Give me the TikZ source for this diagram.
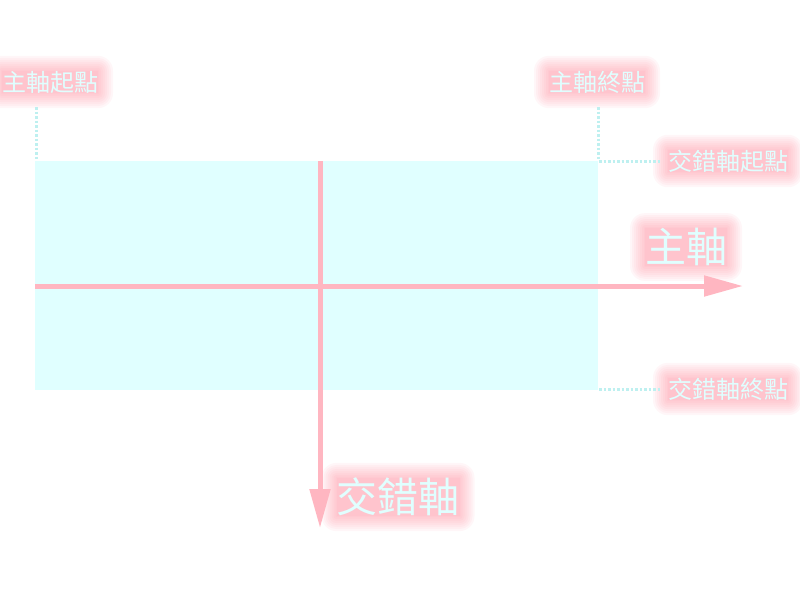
\documentclass[tikz,border=0pt]{standalone}
\usepackage{fontspec}
\setmainfont{Noto Sans CJK TC}
\usetikzlibrary{arrows.meta}
\definecolor{axispink}{RGB}{255,182,193}
\definecolor{glowpink}{RGB}{255,140,158}
\definecolor{lcyan}{RGB}{224,255,255}
\definecolor{guidecyan}{RGB}{190,240,240}
\tikzset{
  axis line/.style={draw=axispink, line width=5pt, -{Triangle[length=39pt,width=20pt]}},
  guide/.style={draw=guidecyan, line width=3pt, dash pattern=on 2.5pt off 2pt},
  lbl/.style={text=lcyan, inner sep=0pt, font=\fontsize{24}{24}\selectfont},
  biglbl/.style={text=lcyan, inner sep=0pt, font=\fontsize{41}{41}\selectfont},
  glowlayer/.style={fill=glowpink, fill opacity=0.07, text opacity=0, draw=none, rounded corners=#1, inner sep=#1}
}
\newcommand{\glowat}[3]{%
  \foreach \gs in {15pt,13pt,11pt,9pt,7pt,5pt,3pt,1pt,0pt}{%
    \node[#2, glowlayer=\gs] at (#1) {#3};}%
}
\begin{document}
\begin{tikzpicture}[x=1pt,y=-1pt]
\useasboundingbox (0,0) rectangle (800,600);
\fill[white] (0,0) rectangle (800,600);
% container
\node[fill=lcyan, minimum width=563pt, minimum height=229pt, inner sep=0pt, anchor=north west] (box) at (35,161) {};
% glows
\glowat{50,82}{lbl}{主軸起點}
\glowat{597,82}{lbl}{主軸終點}
\glowat{728,161}{lbl}{交錯軸起點}
\glowat{728,389}{lbl}{交錯軸終點}
\glowat{686,247}{biglbl}{主軸}
\glowat{398,497}{biglbl}{交錯軸}
% labels
\node[lbl] (mstartlbl) at (50,82) {主軸起點};
\node[lbl] (mendlbl) at (597,82) {主軸終點};
\node[lbl] (cstartlbl) at (728,161) {交錯軸起點};
\node[lbl] (cendlbl) at (728,389) {交錯軸終點};
\node[biglbl] (mainlbl) at (686,247) {主軸};
\node[biglbl] (crosslbl) at (398,497) {交錯軸};
% guide coordinates
\coordinate (g1a) at (36,107);
\coordinate (g1b) at (36,160);
\coordinate (g2a) at (598,107);
\coordinate (g2b) at (598,160);
\coordinate (g3a) at (599,161);
\coordinate (g3b) at (661,161);
\coordinate (g4a) at (599,389);
\coordinate (g4b) at (661,389);
\draw[guide] (g1a) -- (g1b);
\draw[guide] (g2a) -- (g2b);
\draw[guide] (g3a) -- (g3b);
\draw[guide] (g4a) -- (g4b);
% axes
\coordinate (mstart) at (35,286);
\coordinate (mend) at (743,286);
\coordinate (cstart) at (320,161);
\coordinate (cend) at (320,528);
\draw[axis line] (mstart) -- (mend);
\draw[axis line] (cstart) -- (cend);
\end{tikzpicture}
\end{document}
